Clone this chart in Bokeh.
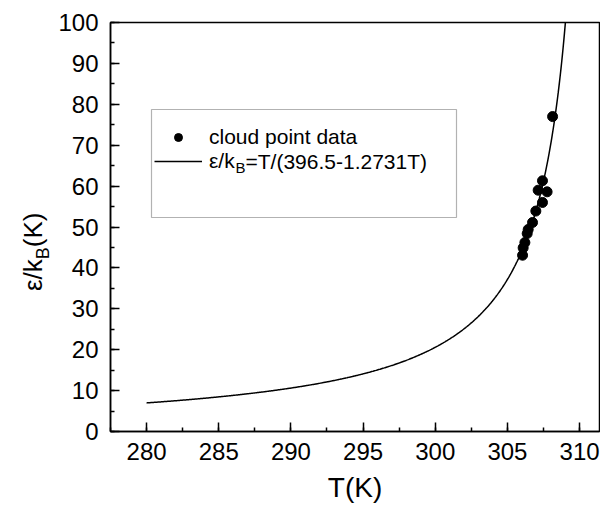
import numpy as np
from bokeh.plotting import figure
from bokeh.layouts import row
from bokeh.models import (Range1d, SingleIntervalTicker, Legend, LegendItem,
                          Label, BoxAnnotation, Div)
from bokeh.embed import file_html
from bokeh.resources import INLINE

# --- data -------------------------------------------------------------
cloud_T = [306.05, 306.09, 306.21, 306.37, 306.44, 306.74, 306.97,
           307.43, 307.75, 307.13, 307.43, 308.13]
cloud_eps = [43.1, 44.9, 46.2, 48.4, 49.4, 51.1, 53.9,
             56.0, 58.6, 59.0, 61.3, 77.0]

fit_A = 396.5
fit_B = 1.2731
fit_T_start = 280.0
fit_T_end = 309.1

x_ticks_interval = 5
y_ticks_interval = 10

fit_T = np.linspace(fit_T_start, fit_T_end, 600)
fit_eps = fit_T / (fit_A - fit_B * fit_T)

FONT = "Liberation Sans"
DIV_W = 55
TOTAL_W = 600
TOTAL_H = 506

p = figure(width=TOTAL_W - DIV_W, height=TOTAL_H, output_backend="svg",
           toolbar_location=None,
           x_range=Range1d(277.5, 311.38), y_range=Range1d(0, 100),
           min_border_left=110 - DIV_W, min_border_top=22, min_border_bottom=75,
           min_border_right=1)
p.background_fill_color = "white"
p.border_fill_color = "white"
p.outline_line_color = "black"
p.outline_line_width = 1.5
p.xgrid.visible = False
p.ygrid.visible = False

line_r = p.line(fit_T, fit_eps, line_color="black", line_width=1.5)
pts_r = p.scatter(cloud_T, cloud_eps, size=10, fill_color="black",
                  line_color="black", marker="circle")

for ax in (p.xaxis[0], p.yaxis[0]):
    ax.axis_line_color = "black"
    ax.axis_line_width = 1.5
    ax.major_tick_line_width = 1.5
    ax.minor_tick_line_width = 1.5
    ax.major_tick_in = 9
    ax.major_tick_out = 0
    ax.minor_tick_in = 4
    ax.minor_tick_out = 0
    ax.major_label_text_font = FONT
    ax.major_label_text_font_size = "24px"
    ax.major_label_text_color = "black"

p.xaxis.ticker = SingleIntervalTicker(interval=x_ticks_interval, num_minor_ticks=2)
p.yaxis.ticker = SingleIntervalTicker(interval=y_ticks_interval, num_minor_ticks=2)
p.xaxis.major_label_standoff = 11
p.yaxis.major_label_standoff = 12

p.xaxis.axis_label = "T(K)"
p.xaxis.axis_label_text_font = FONT
p.xaxis.axis_label_text_font_size = "28px"
p.xaxis.axis_label_text_font_style = "normal"
p.xaxis.axis_label_text_color = "black"
p.xaxis.axis_label_standoff = 9

# legend box
p.add_layout(BoxAnnotation(left=41, right=346, bottom=214, top=322,
                           left_units="screen", right_units="screen",
                           bottom_units="screen", top_units="screen",
                           fill_alpha=0, line_color="black", line_width=1.2))

legend = Legend(items=[LegendItem(label="cloud point data", renderers=[pts_r]),
                       LegendItem(label="ε/k", renderers=[line_r])],
                location=(44, 258), glyph_width=48, glyph_height=20,
                label_height=20, label_standoff=7, spacing=0, padding=0,
                margin=0, border_line_alpha=0, background_fill_alpha=0,
                label_text_font=FONT, label_text_font_size="21px",
                label_text_color="black")
p.add_layout(legend, "center")

p.add_layout(Label(x=125, y=264, x_units="screen", y_units="screen", text="B",
                   text_align="left", text_baseline="middle",
                   text_font=FONT, text_font_size="15px", text_color="black"))
p.add_layout(Label(x=135, y=270, x_units="screen", y_units="screen",
                   text="=T/(396.5-1.2731T)",
                   text_align="left", text_baseline="middle",
                   text_font=FONT, text_font_size="21px", text_color="black"))

# rotated y-axis title with a real subscript
ylabel_html = (
    '<div style="position:relative;width:%dpx;height:%dpx;">'
    '<div style="position:absolute;left:20px;top:291px;'
    'transform:rotate(-90deg);transform-origin:left top;'
    "font-family:'Liberation Sans';font-size:26px;line-height:26px;"
    'white-space:nowrap;color:black;">'
    'ε/k<span style="font-size:18px;position:relative;top:7px;">B</span>(K)'
    '</div></div>' % (DIV_W, TOTAL_H)
)
ylabel = Div(text=ylabel_html, width=DIV_W, height=TOTAL_H, margin=0)

layout = row(ylabel, p, spacing=0)

open("out.html", "w").write(file_html(layout, INLINE))
